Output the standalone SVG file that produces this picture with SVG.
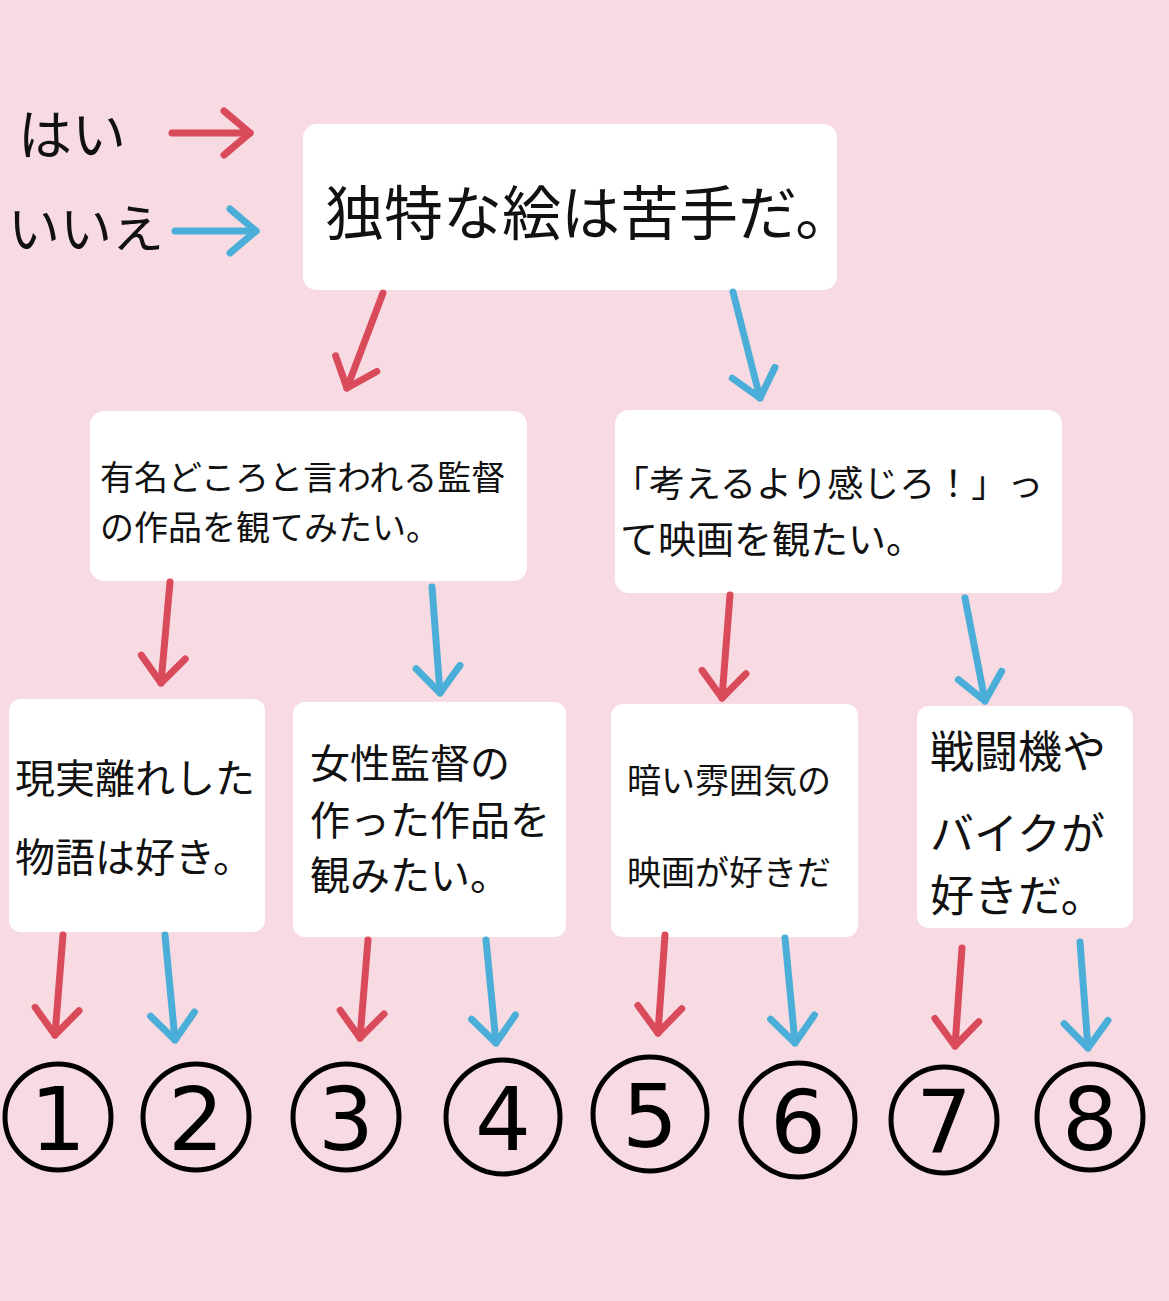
<svg xmlns="http://www.w3.org/2000/svg" width="1169" height="1301" viewBox="0 0 1169 1301">
<defs>
<style>
.box{fill:#fff}
.t{font-family:"Noto Sans CJK JP","Noto Sans",sans-serif;fill:#111}
.r{stroke:#d94b5a;stroke-width:7;fill:none;stroke-linecap:round}
.b{stroke:#4aaed8;stroke-width:7;fill:none;stroke-linecap:round}
.c{fill:none;stroke:#000;stroke-width:5}
.n{font-family:"DejaVu Sans",sans-serif;font-size:88px;text-anchor:middle;fill:#000}
</style>
<marker id="mr" markerUnits="userSpaceOnUse" viewBox="-40 -40 50 80" markerWidth="50" markerHeight="80" refX="0" refY="0" orient="auto" overflow="visible"><path d="M-26,-22 L0,0 L-26,22" stroke="#d94b5a" stroke-width="7" fill="none" stroke-linecap="round" stroke-linejoin="round"/></marker>
<marker id="mb" markerUnits="userSpaceOnUse" viewBox="-40 -40 50 80" markerWidth="50" markerHeight="80" refX="0" refY="0" orient="auto" overflow="visible"><path d="M-26,-22 L0,0 L-26,22" stroke="#4aaed8" stroke-width="7" fill="none" stroke-linecap="round" stroke-linejoin="round"/></marker>
</defs>
<rect width="1169" height="1301" fill="#f8dbe2"/>
<g id="legend">
<text class="t" x="18" y="155" font-size="54">はい</text>
<text class="t" x="8" y="248" font-size="52">いいえ</text>
</g>
<g id="q1"><rect class="box" x="303" y="124" width="534" height="166" rx="14"/><text class="t" x="325" y="235" font-size="59">独特な絵は苦手だ。</text></g>
<g id="q2"><rect class="box" x="90" y="411" width="437" height="170" rx="14"/><text class="t" x="100" y="490" font-size="34">有名どころと言われる監督</text><text class="t" x="100" y="540" font-size="34">の作品を観てみたい。</text></g>
<g id="q3"><rect class="box" x="615" y="410" width="447" height="183" rx="14"/><text class="t" x="613" y="497" font-size="36">「考えるより感じろ！」っ</text><text class="t" x="620" y="553" font-size="38">て映画を観たい。</text></g>
<g id="q4"><rect class="box" x="9" y="699" width="256" height="233" rx="12"/><text class="t" x="15" y="793" font-size="40">現実離れした</text><text class="t" x="15" y="872" font-size="40">物語は好き。</text></g>
<g id="q5"><rect class="box" x="293" y="702" width="273" height="235" rx="12"/><text class="t" x="310" y="778" font-size="40">女性監督の</text><text class="t" x="310" y="835" font-size="40">作った作品を</text><text class="t" x="310" y="890" font-size="40">観みたい。</text></g>
<g id="q6"><rect class="box" x="611" y="704" width="247" height="233" rx="12"/><text class="t" x="627" y="793" font-size="34">暗い雰囲気の</text><text class="t" x="627" y="885" font-size="34">映画が好きだ</text></g>
<g id="q7"><rect class="box" x="917" y="706" width="216" height="222" rx="12"/><text class="t" x="930" y="768" font-size="44">戦闘機や</text><text class="t" x="930" y="850" font-size="44">バイクが</text><text class="t" x="930" y="912" font-size="44">好きだ。</text></g>
<g id="results">
<circle class="c" cx="58" cy="1117" r="53"/><text class="n" x="58" y="1150">1</text>
<circle class="c" cx="196" cy="1117" r="53"/><text class="n" x="196" y="1150">2</text>
<circle class="c" cx="346" cy="1117" r="53"/><text class="n" x="346" y="1150">3</text>
<circle class="c" cx="503" cy="1117" r="57"/><text class="n" x="503" y="1150">4</text>
<circle class="c" cx="650" cy="1114" r="57"/><text class="n" x="650" y="1147">5</text>
<circle class="c" cx="798" cy="1120" r="57"/><text class="n" x="798" y="1153">6</text>
<circle class="c" cx="944" cy="1120" r="53"/><text class="n" x="944" y="1153">7</text>
<circle class="c" cx="1090" cy="1117" r="53"/><text class="n" x="1090" y="1150">8</text>
</g>
<g id="connectors">
<line class="r" x1="172" y1="133" x2="250" y2="133" marker-end="url(#mr)"/>
<line class="b" x1="175" y1="231" x2="256" y2="231" marker-end="url(#mb)"/>
<line class="r" x1="383" y1="293" x2="347" y2="388" marker-end="url(#mr)"/>
<line class="b" x1="733" y1="292" x2="760" y2="398" marker-end="url(#mb)"/>
<line class="r" x1="170" y1="582" x2="161" y2="683" marker-end="url(#mr)"/>
<line class="b" x1="432" y1="587" x2="440" y2="693" marker-end="url(#mb)"/>
<line class="r" x1="730" y1="595" x2="722" y2="698" marker-end="url(#mr)"/>
<line class="b" x1="965" y1="598" x2="985" y2="701" marker-end="url(#mb)"/>
<line class="r" x1="63" y1="935" x2="55" y2="1035" marker-end="url(#mr)"/>
<line class="b" x1="165" y1="935" x2="175" y2="1040" marker-end="url(#mb)"/>
<line class="r" x1="368" y1="940" x2="360" y2="1038" marker-end="url(#mr)"/>
<line class="b" x1="486" y1="940" x2="496" y2="1043" marker-end="url(#mb)"/>
<line class="r" x1="665" y1="935" x2="658" y2="1033" marker-end="url(#mr)"/>
<line class="b" x1="785" y1="938" x2="795" y2="1043" marker-end="url(#mb)"/>
<line class="r" x1="962" y1="948" x2="955" y2="1046" marker-end="url(#mr)"/>
<line class="b" x1="1080" y1="942" x2="1088" y2="1048" marker-end="url(#mb)"/>
</g>
</svg>
